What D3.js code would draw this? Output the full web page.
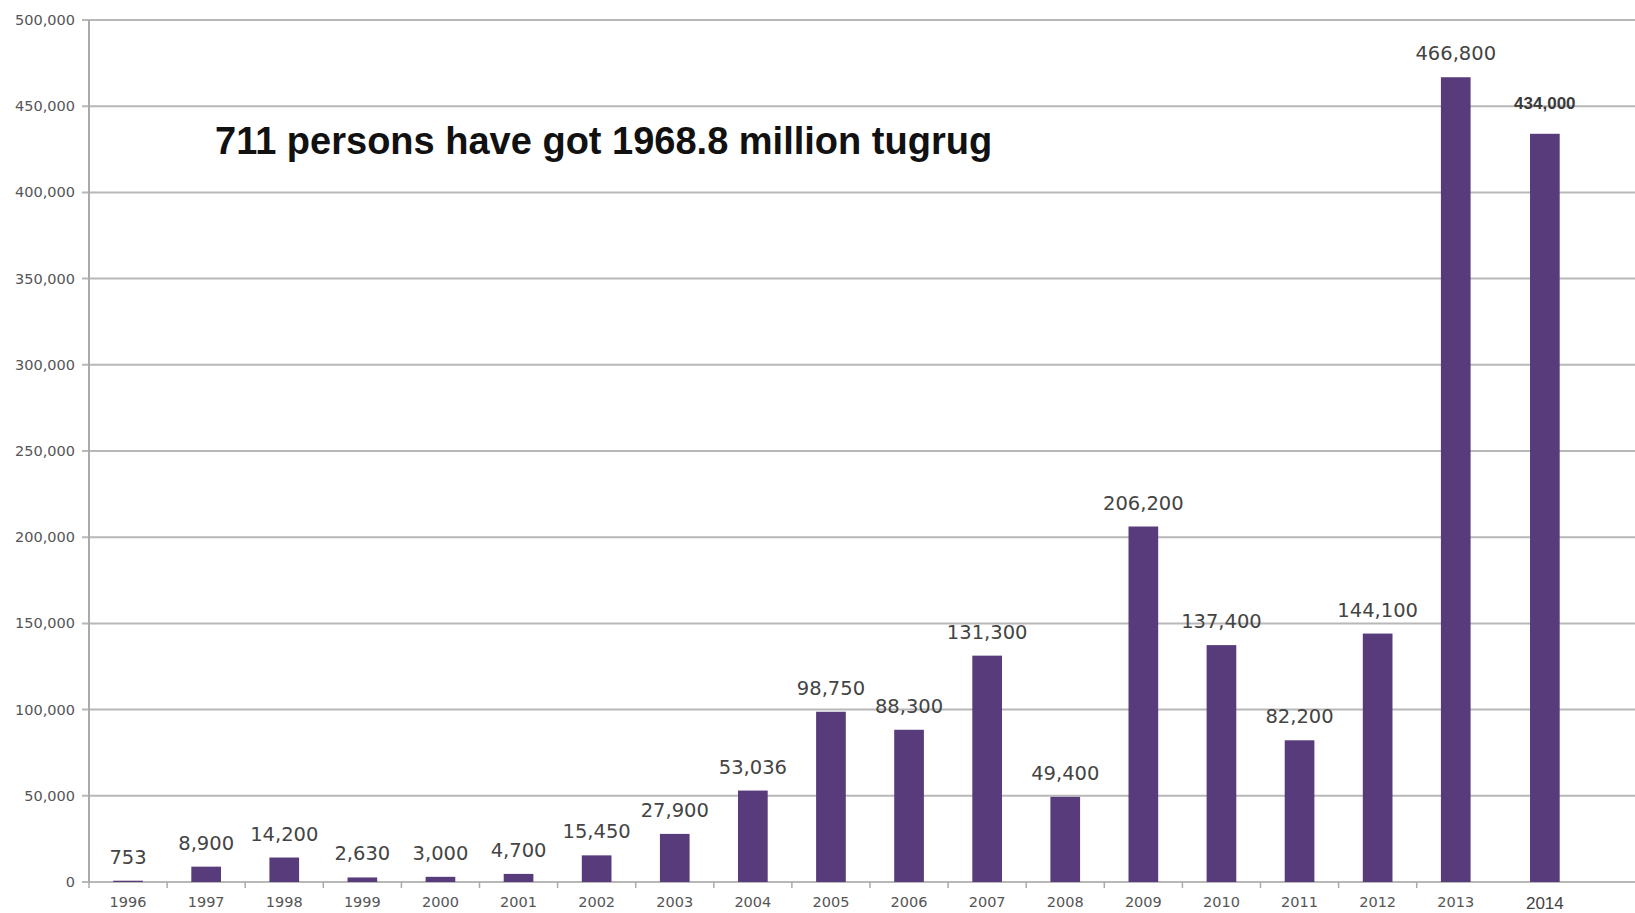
<!DOCTYPE html>
<html>
<head>
<meta charset="utf-8">
<script src="https://cdnjs.cloudflare.com/ajax/libs/d3/7.8.5/d3.min.js"></script>
<style>
  html, body { margin: 0; padding: 0; background: #fff; }
  svg { display: block; }
</style>
</head>
<body>
<div id="chart"></div>
<script>
// ================================ DATA ================================
const years = ["1996", "1997", "1998", "1999", "2000", "2001", "2002", "2003", "2004", "2005",
  "2006", "2007", "2008", "2009", "2010", "2011", "2012", "2013", "2014"];
const amounts = [753, 8900, 14200, 2630, 3000, 4700, 15450, 27900, 53036, 98750,
  88300, 131300, 49400, 206200, 137400, 82200, 144100, 466800, 434000];
const yTicks = [0, 50000, 100000, 150000, 200000, 250000, 300000, 350000, 400000, 450000, 500000];
const title = "711 persons have got 1968.8 million tugrug";

// ============================== SETTINGS ==============================
const width = 1635, height = 913;
const margin = { top: 20, left: 89, bottom: 31 };
const zeroY = height - margin.bottom;
const fmt = d3.format(",");
const last = years.length - 1;
const lastShift = 11; // the 2014 column was pasted a bit further right

const svg = d3.select("#chart").append("svg")
  .attr("width", width)
  .attr("height", height);

const y = d3.scaleLinear().domain([0, 500000]).range([zeroY, margin.top]);
const x = d3.scaleBand().domain(years)
  .range([margin.left, margin.left + 78.1 * years.length])
  .paddingInner(0.62)
  .paddingOuter(0.31);
const xPos = (d, i) => x(d) + (i === last ? lastShift : 0);

// ============================== GRID ==============================
svg.append("g").selectAll("line")
  .data(yTicks)
  .enter().append("line")
  .attr("x1", margin.left - 7)
  .attr("x2", width)
  .attr("y1", d => y(d))
  .attr("y2", d => y(d))
  .style("stroke", "#b8b8b8")
  .style("stroke-width", 2);

svg.append("g").selectAll("text")
  .data(yTicks)
  .enter().append("text")
  .attr("x", 75)
  .attr("y", d => y(d) + 5)
  .attr("text-anchor", "end")
  .style("font-family", "DejaVu Sans")
  .style("font-size", "14.5px")
  .style("fill", "#555")
  .text(d => fmt(d));

// y axis line
svg.append("line")
  .attr("x1", margin.left).attr("x2", margin.left)
  .attr("y1", margin.top).attr("y2", zeroY)
  .style("stroke", "#aaa")
  .style("stroke-width", 2);

// x axis ticks at band edges
svg.append("g").selectAll("line")
  .data(years.slice(0, last))
  .enter().append("line")
  .attr("x1", d => x(d) + x.bandwidth() / 2 - x.step() / 2)
  .attr("x2", d => x(d) + x.bandwidth() / 2 - x.step() / 2)
  .attr("y1", zeroY)
  .attr("y2", zeroY + 6)
  .style("stroke", "#aaa")
  .style("stroke-width", 1.5);

// ============================== BARS ==============================
svg.append("g").selectAll("rect")
  .data(years)
  .enter().append("rect")
  .attr("x", (d, i) => xPos(d, i))
  .attr("width", x.bandwidth())
  .attr("y", (d, i) => y(amounts[i]))
  .attr("height", (d, i) => zeroY - y(amounts[i]))
  .style("fill", "#573b7a");

// ============================== LABELS ==============================
svg.append("g").selectAll("text")
  .data(years)
  .enter().append("text")
  .attr("x", (d, i) => xPos(d, i) + x.bandwidth() / 2)
  .attr("y", (d, i) => y(amounts[i]) - (i === last ? 25 : 17))
  .attr("text-anchor", "middle")
  .style("font-family", (d, i) => i === last ? "Liberation Sans" : "DejaVu Sans")
  .style("font-size", (d, i) => i === last ? "17px" : "19.5px")
  .style("font-weight", (d, i) => i === last ? "bold" : "normal")
  .style("fill", (d, i) => i === last ? "#3a3a3a" : "#444")
  .text((d, i) => fmt(amounts[i]));

svg.append("g").selectAll("text")
  .data(years)
  .enter().append("text")
  .attr("x", (d, i) => xPos(d, i) + x.bandwidth() / 2)
  .attr("y", (d, i) => i === last ? 909 : 907)
  .attr("text-anchor", "middle")
  .style("font-family", (d, i) => i === last ? "Liberation Sans" : "DejaVu Sans")
  .style("font-size", (d, i) => i === last ? "17px" : "14.5px")
  .style("fill", (d, i) => i === last ? "#444" : "#555")
  .text(d => d);

// ============================== TITLE ==============================
svg.append("text")
  .attr("x", 215)
  .attr("y", 154)
  .style("font-family", "Liberation Sans")
  .style("font-size", "38px")
  .style("font-weight", "bold")
  .style("fill", "#111")
  .text(title);
</script>
</body>
</html>
